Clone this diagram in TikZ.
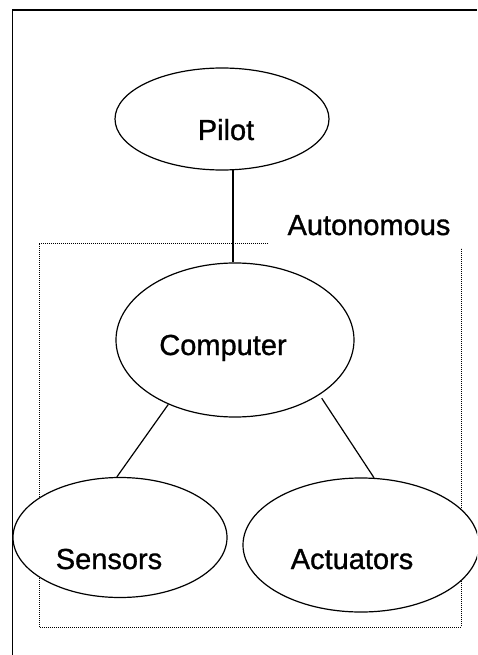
\documentclass[tikz,border=0pt]{standalone}
\usepackage{fontspec}
\setmainfont{Liberation Sans}[UprightFeatures={FakeBold=1}]
\usetikzlibrary{shapes.geometric}
\begin{document}
\begin{tikzpicture}[x=1pt,y=-1pt,
	blob/.style={draw,ellipse,fill=white,line width=1.2pt,inner sep=0pt},
	txt/.style={anchor=base,inner sep=0pt,font=\fontsize{29}{34}\selectfont},
	link/.style={line width=1.2pt},
	frame/.style={line width=1.7pt},
	dotbox/.style={line width=0.8pt,dash pattern=on 0.8pt off 1.2pt}]
	\clip(0,0)rectangle(477,655);
	\draw[frame](12.5,655)--(12.5,10)--(477,10);
	\draw[dotbox](268,243)--(39,243)--(39,627)--(461,627)--(461,248);
	\node[blob,minimum width=214,minimum height=102](pilot)at(222,119){};
	\node[blob,minimum width=238,minimum height=154](comp)at(235,340){};
	\node[blob,minimum width=214,minimum height=120](sens)at(120,537.5){};
	\node[blob,minimum width=236,minimum height=134](act)at(361,545){};
	\draw[link](pilot.-78)--(pilot.-78|-comp.north);
	\draw[link](comp.224)--(sens.93);
	\draw[link,shorten <=4pt](comp.-33)--(act.79);
	\node[txt](pilot-t)at([shift={(4,21)}]pilot.center){Pilot};
	\node[txt](comp-t)at([shift={(-12,15)}]comp.center){Computer};
	\node[txt](sens-t)at([shift={(-11,31.5)}]sens.center){Sensors};
	\node[txt](act-t)at([shift={(-9,24)}]act.center){Actuators};
	\node[txt](auto-t)at(369,235){Autonomous};
\end{tikzpicture}
\end{document}
